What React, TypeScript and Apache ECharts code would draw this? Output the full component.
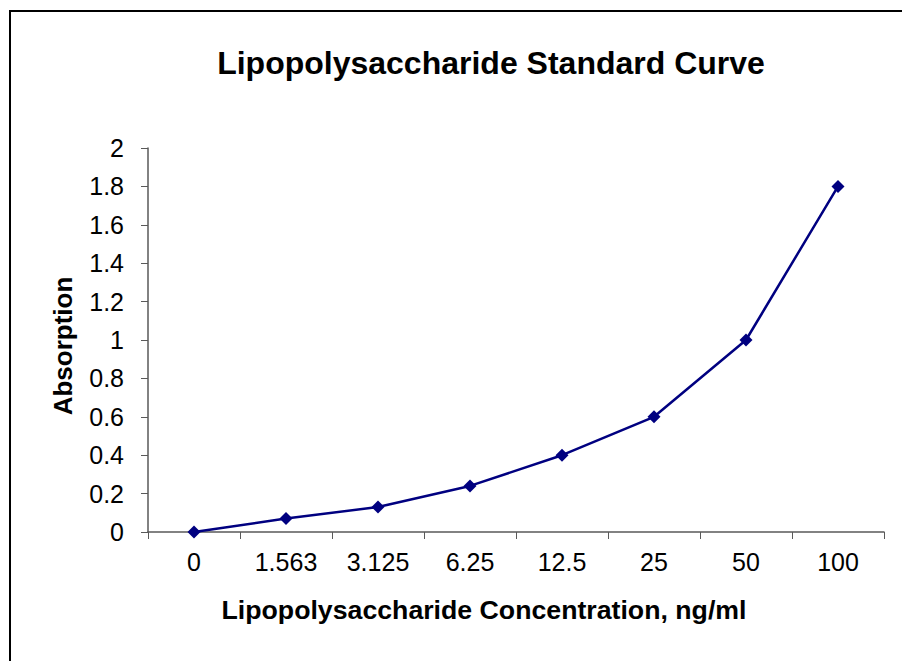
import React, { useEffect, useRef } from "react";
import * as echarts from "echarts";

const categories = ["0", "1.563", "3.125", "6.25", "12.5", "25", "50", "100"];
const absorption = [0, 0.07, 0.13, 0.24, 0.4, 0.6, 1.0, 1.8];

const FONT = "'Liberation Sans', Arial, sans-serif";

export default function App() {
  const ref = useRef<HTMLDivElement>(null);
  useEffect(() => {
    document.body.style.margin = "0";
    const chart = echarts.init(ref.current!, null, { renderer: "svg" });
    chart.setOption({
      animation: false,
      backgroundColor: "#ffffff",
      textStyle: { fontFamily: FONT },
      title: {
        text: "Lipopolysaccharide Standard Curve",
        left: 491,
        textAlign: "center",
        top: 47,
        padding: 0,
        textStyle: { fontFamily: FONT, fontSize: 32, fontWeight: "bold", color: "#000" },
      },
      graphic: [
        {
          type: "rect",
          shape: { x: 10, y: 11, width: 1000, height: 1000 },
          style: { fill: "none", stroke: "#000", lineWidth: 2 },
          silent: true,
        },
        {
          type: "text",
          x: 63,
          y: 346,
          rotation: Math.PI / 2,
          style: {
            text: "Absorption",
            fontFamily: FONT,
            fontSize: 26,
            fontWeight: "bold",
            fill: "#000",
            align: "center",
            verticalAlign: "middle",
          },
        },
      ],
      grid: { left: 148, right: 18, top: 148, bottom: 129 },
      xAxis: {
        type: "category",
        data: categories,
        boundaryGap: true,
        name: "Lipopolysaccharide Concentration, ng/ml",
        nameLocation: "middle",
        nameGap: 64,
        nameTextStyle: {
          fontFamily: FONT,
          fontSize: 26.7,
          fontWeight: "bold",
          color: "#000",
          padding: [0, 64, 0, 0],
        },
        axisLine: { lineStyle: { color: "#595959", width: 1.5 } },
        axisTick: { show: true, length: 7, alignWithLabel: false, lineStyle: { color: "#595959" } },
        axisLabel: { fontFamily: FONT, fontSize: 25, color: "#000", margin: 17 },
        splitLine: { show: false },
      },
      yAxis: {
        type: "value",
        min: 0,
        max: 2,
        interval: 0.2,
        axisLine: { show: true, lineStyle: { color: "#595959", width: 1.5 } },
        axisTick: { show: true, length: 7, lineStyle: { color: "#595959" } },
        axisLabel: {
          fontFamily: FONT,
          fontSize: 25,
          color: "#000",
          margin: 24,
          formatter: (v: number) => String(Math.round(v * 10) / 10),
        },
        splitLine: { show: false },
      },
      series: [
        {
          type: "line",
          data: absorption,
          symbol: "diamond",
          symbolSize: 13,
          lineStyle: { color: "#000080", width: 2.5 },
          itemStyle: { color: "#000080" },
        },
      ],
    });
    return () => chart.dispose();
  }, []);
  return <div ref={ref} style={{ width: 902, height: 661 }} />;
}
